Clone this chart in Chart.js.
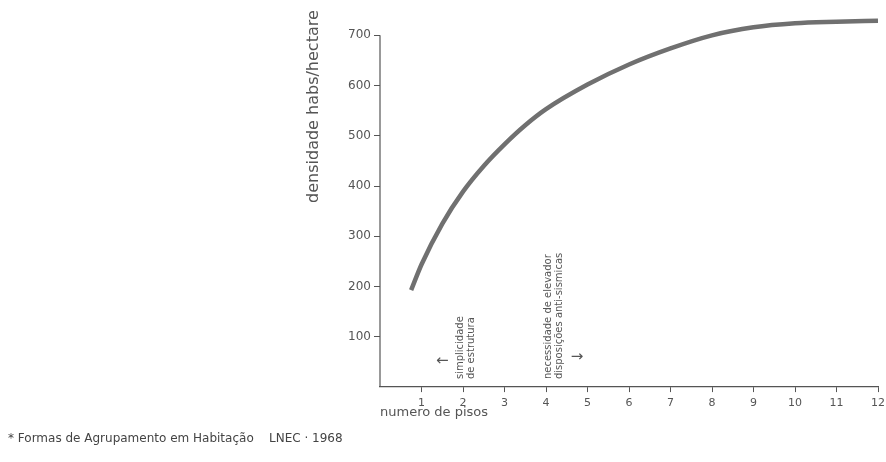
<!DOCTYPE html>
<html>
<head>
<meta charset="utf-8">
<script src="https://cdn.jsdelivr.net/npm/chart.js@4/dist/chart.umd.min.js"></script>
<style>
  html, body { margin: 0; padding: 0; background: #fff; }
  #wrap { width: 886px; height: 462px; }
</style>
</head>
<body>
<div id="wrap"><canvas id="grafico"></canvas></div>
<script>
// dados
const pisos     = [0.75, 1, 1.5, 2, 2.5, 3, 3.5, 4, 5, 6, 7, 8, 9, 10, 11, 12];
const densidade = [193, 244, 325, 389, 440, 483, 521, 553, 602, 642, 674, 700, 716, 724, 727, 729];
const yTicks    = [100, 200, 300, 400, 500, 600, 700];
const xTicks    = [1, 2, 3, 4, 5, 6, 7, 8, 9, 10, 11, 12];

const ink = '#555';

// eixo y só até 700, notas verticais e setas
const notas = {
  id: 'notas',
  afterDraw(chart) {
    const { ctx, scales: { x, y } } = chart;
    ctx.save();
    ctx.strokeStyle = ink;
    ctx.lineWidth = 1.2;
    ctx.beginPath();
    ctx.moveTo(x.left, y.getPixelForValue(0));
    ctx.lineTo(x.left, y.getPixelForValue(yTicks[yTicks.length - 1]));
    ctx.stroke();

    ctx.fillStyle = ink;
    ctx.font = '10px "DejaVu Sans"';
    const vertical = (xv, lines) => {
      ctx.save();
      ctx.translate(x.getPixelForValue(xv), y.getPixelForValue(16));
      ctx.rotate(-Math.PI / 2);
      ctx.textAlign = 'left';
      ctx.textBaseline = 'middle';
      lines.forEach((t, i) => ctx.fillText(t, 0, (i - (lines.length - 1) / 2) * 11));
      ctx.restore();
    };
    vertical(2.08, ['simplicidade', 'de estrutura']);
    vertical(4.2, ['necessidade de elevador', 'disposições anti-sismicas']);

    ctx.font = '15px "DejaVu Sans"';
    ctx.textAlign = 'center';
    ctx.textBaseline = 'middle';
    ctx.fillText('←', x.getPixelForValue(1.5), y.getPixelForValue(52));
    ctx.fillText('→', x.getPixelForValue(4.75), y.getPixelForValue(60));
    ctx.restore();
  }
};

new Chart(document.getElementById('grafico'), {
  type: 'line',
  data: {
    datasets: [{
      data: pisos.map((p, i) => ({ x: p, y: densidade[i] })),
      borderColor: '#707070',
      borderWidth: 4.5,
      pointRadius: 0,
      cubicInterpolationMode: 'monotone',
      fill: false
    }]
  },
  options: {
    responsive: true,
    maintainAspectRatio: false,
    animation: false,
    layout: { padding: { left: 8, right: 0, top: 4, bottom: 0 } },
    plugins: {
      legend: { display: false },
      tooltip: { enabled: false },
      title: {
        display: true,
        position: 'bottom',
        align: 'start',
        text: '* Formas de Agrupamento em Habitação    LNEC · 1968',
        color: '#444',
        font: { family: 'DejaVu Sans', size: 12, weight: 'normal' },
        padding: { top: 6, bottom: 16 }
      }
    },
    scales: {
      x: {
        type: 'linear',
        min: 0,
        max: 12,
        afterBuildTicks: s => { s.ticks = xTicks.map(v => ({ value: v })); },
        afterFit: s => { s.height = 38.5; s.paddingRight = 8; },
        border: { display: true, color: ink, width: 1.2 },
        grid: { drawOnChartArea: false, drawTicks: true, tickLength: 5, color: ink },
        ticks: { color: ink, padding: 4, maxRotation: 0, font: { family: 'DejaVu Sans', size: 11 } },
        title: {
          display: true,
          align: 'start',
          text: 'numero de pisos',
          color: ink,
          font: { family: 'DejaVu Sans', size: 13 },
          padding: { top: 0, bottom: 5 }
        }
      },
      y: {
        min: 0,
        max: 750,
        afterBuildTicks: s => { s.ticks = yTicks.map(v => ({ value: v })); },
        afterFit: s => { s.width = 372; },
        border: { display: false },
        grid: { drawOnChartArea: false, drawTicks: true, tickLength: 6, color: ink },
        ticks: { color: ink, padding: 3, font: { family: 'DejaVu Sans', size: 12 } },
        title: {
          display: true,
          align: 'end',
          text: 'densidade habs/hectare',
          color: ink,
          font: { family: 'DejaVu Sans', size: 16 },
          padding: { top: 296, bottom: 0 }
        }
      }
    }
  },
  plugins: [notas]
});
</script>
</body>
</html>
